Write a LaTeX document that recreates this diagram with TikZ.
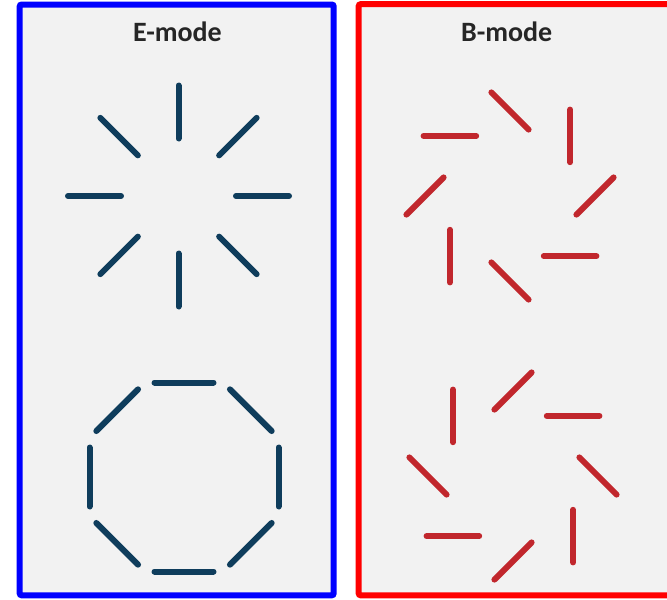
\documentclass[tikz,border=0pt]{standalone}
\usepackage{fontspec}
\setmainfont{Carlito}
\definecolor{panelgray}{HTML}{F2F2F2}
\definecolor{navy}{HTML}{0F3D5C}
\definecolor{brick}{HTML}{C1272D}
\definecolor{titlegray}{HTML}{262626}
\begin{document}
\begin{tikzpicture}[x=1pt,y=-1pt,
  panelE/.style={draw=blue, line width=6pt, fill=panelgray, rounded corners=2pt},
  panelB/.style={draw=red, line width=6pt, fill=panelgray, rounded corners=2pt},
  titletext/.style={anchor=base, inner sep=0pt, text=titlegray, font=\fontsize{28}{32}\selectfont\bfseries},
  estroke/.style={draw=navy, line width=6pt, line cap=round},
  bstroke/.style={draw=brick, line width=6pt, line cap=round}]
\useasboundingbox (0,0) rectangle (667,600);
\fill[white] (0,0) rectangle (667,600);
\begin{scope}
\clip (0,0) rectangle (667,600);
\draw[panelE] (19.7,4.5) rectangle (333.7,595.3);
\draw[panelB] (358.7,4.2) rectangle (690,595.3);
\end{scope}
\node[titletext] (etitle) at (177.5,41.8) {E-mode};
\node[titletext] (btitle) at (506.7,41.8) {B-mode};
% E-mode radial pattern
\begin{scope}[shift={(178.5,196)}]
\foreach \a in {0,45,...,315}
  \draw[estroke] (\a:57.5) -- (\a:110.5);
\end{scope}
% E-mode tangential pattern
\begin{scope}[shift={(184,477)}]
\foreach \a in {0,45,...,315}
  \draw[estroke] (\a:94.5) ++(\a+90:29.5) -- ++(\a-90:59);
\end{scope}
% B-mode, one handedness
\begin{scope}[shift={(510,196)}]
\foreach \a in {0,45,...,315}
  \draw[bstroke] (\a:85) ++(\a-45:26.3) -- ++(\a+135:52.6);
\end{scope}
% B-mode, other handedness
\begin{scope}[shift={(513,476)}]
\foreach \a in {0,45,...,315}
  \draw[bstroke] (\a:85) ++(\a+45:26.3) -- ++(\a-135:52.6);
\end{scope}
\end{tikzpicture}
\end{document}
